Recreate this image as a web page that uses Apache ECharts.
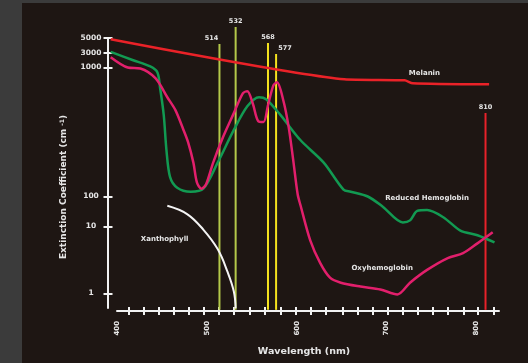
<!DOCTYPE html>
<html><head><meta charset="utf-8">
<script src="https://cdn.jsdelivr.net/npm/echarts@6/dist/echarts.min.js"></script>
<style>
html,body{margin:0;padding:0;background:#3b3b3b;width:528px;height:363px;overflow:hidden}
#panel{position:absolute;left:22px;top:3px;right:0;bottom:0;background:#1e1613}
#chart{position:absolute;left:0;top:0;width:528px;height:363px}
</style></head><body><div id="panel"></div><div id="chart"></div>
<script>
// ---- data (wavelength nm, extinction coefficient cm^-1) ----
const melanin = [[393,4800],[653,810],[720,795],[729,755],[814,740]];
const reducedHb = [[393,3110],[418,1730],[437,1080],[445,915],[448,690],[452,430],[455,230],[459,142],[467,117],[482,109],[496,115],[512,183],[530,328],[545,500],[558,588],[566,567],[582,427],[604,274],[630,183],[652,113],[660,109],[679,100],[696,45],[718,13.7],[726,16],[734,33],[745,35.6],[763,20.4],[782,8.7],[801,7.4],[820,5.8]];
const oxyHb = [[393,2190],[412,1000],[426,982],[443,823],[456,588],[465,467],[474,328],[479,265],[485,183],[489,128],[494,115],[499,124],[507,183],[518,289],[530,443],[540,631],[545,654],[551,528],[557,385],[563,378],[568,510],[574,727],[578,767],[585,557],[591,345],[596,193],[601,104],[604,53],[615,6.2],[626,2.86],[637,1.72],[649,1.45],[671,1.27],[693,1.15],[712,0.97],[726,1.45],[745,2.25],[768,3.38],[785,4.0],[801,5.6],[818,8.2]];
const xanthophyll = [[456,49],[478,26],[496,9.0],[512,4.6],[523,2.1],[530,1.07],[532,0.6]];
const laserLines = [514, 532, 568, 577, 810];
const laserTops = [4070, 7280, 4220, 2780, 444];
const laserBottom = 0.57;
const curveLabels = ['Melanin','Reduced Hemoglobin','Oxyhemoglobin','Xanthophyll'];
const curveLabelAt = [[742,906],[745,89],[695,2.4],[453,6.5]];
const yTickValues = [1, 10, 100, 1000, 3000, 5000];
const xLabelValues = [400, 500, 600, 700, 800];
const xTickValues = [412.7,429.4,446.1,462.7,479.4,496.1,512.8,529.5,547.3,564.0,581.8,598.4,615.1,631.8,650.7,667.4,684.1,700.8,717.5,734.1,750.8,767.5,785.3,800.9,818.7];

// ---- the chart's own (non-uniform) vertical scale ----
const yTickUnits = [14.5, 81.5, 111.5, 240.5, 255, 270];
const yLogs = yTickValues.map(v => Math.log10(v));
function toAxis(v){
  const L = Math.log10(v);
  let i = 0;
  if (L <= yLogs[0]) i = 0;
  else if (L >= yLogs[yLogs.length-1]) i = yLogs.length-2;
  else { while (!(L >= yLogs[i] && L <= yLogs[i+1])) i++; }
  const t = (L - yLogs[i]) / (yLogs[i+1] - yLogs[i]);
  return yTickUnits[i] + t * (yTickUnits[i+1] - yTickUnits[i]);
}
const conv = arr => arr.map(p => [p[0], toAxis(p[1])]);

// ---- styles ----
const FONT = 'DejaVu Sans';
const TXT = '#e6e6e6';
const AX = '#f2f2f2';
const laserColors = ['#b4c84a','#b4c84a','#f4e21e','#f4e21e','#e8222a'];
const laserLabelOffset = [-8, 0, 0, 9, 0];

const chart = echarts.init(document.getElementById('chart'), null, {renderer:'canvas'});

const labelMark = (idx) => ({
  symbol:'rect', symbolSize:1, silent:true, animation:false,
  itemStyle:{color:'rgba(0,0,0,0)'},
  label:{show:true, position:'inside', formatter:'{b}', color:TXT, fontSize:7, fontWeight:'bold', fontFamily:FONT},
  data:[{name:curveLabels[idx], coord:[curveLabelAt[idx][0], toAxis(curveLabelAt[idx][1])]}]
});

const series = [];
laserLines.forEach((nm, i) => {
  series.push({
    type:'line', xAxisIndex:0, yAxisIndex:0, clip:false, silent:true,
    symbol:'circle', symbolSize:1, showSymbol:true,
    itemStyle:{color:'rgba(0,0,0,0)'},
    lineStyle:{color:laserColors[i], width:2},
    z:2,
    data:[
      {value:[nm, toAxis(laserBottom)], label:{show:false}},
      {value:[nm, toAxis(laserTops[i])], label:{show:true, position:'top', distance:2, offset:[laserLabelOffset[i],0], formatter:String(nm), color:TXT, fontSize:6.5, fontWeight:'bold', fontFamily:FONT}}
    ]
  });
});
series.push({type:'line', name:'Melanin', data:conv(melanin), clip:false, showSymbol:false, smooth:0.2,
  lineStyle:{color:'#ea2228', width:2.5}, z:3, markPoint:labelMark(0)});
series.push({type:'line', name:'Reduced Hemoglobin', data:conv(reducedHb), clip:false, showSymbol:false, smooth:0.3,
  lineStyle:{color:'#129a52', width:2.5}, z:4, markPoint:labelMark(1)});
series.push({type:'line', name:'Oxyhemoglobin', data:conv(oxyHb), clip:false, showSymbol:false, smooth:0.3,
  lineStyle:{color:'#e21f6c', width:2.5}, z:4, markPoint:labelMark(2)});
series.push({type:'line', name:'Xanthophyll', data:conv(xanthophyll), clip:false, showSymbol:false, smooth:0.4,
  lineStyle:{color:'#f4f4f4', width:2}, z:4, markPoint:labelMark(3)});

const yTickUnitsList = yTickValues.map(toAxis);
const yLabelFmt = (val) => {
  let best = 0;
  yTickUnitsList.forEach((u, i) => { if (Math.abs(u - val) < Math.abs(yTickUnitsList[best] - val)) best = i; });
  return String(yTickValues[best]);
};

chart.setOption({
  animation:false,
  backgroundColor:'transparent',
  grid:[
    {left:108, right:29, top:38, bottom:55},
    {left:117, right:29, top:38, bottom:52}
  ],
  xAxis:[
    {gridIndex:0, type:'value', min:390, max:825, show:false, position:'bottom'},
    {gridIndex:1, type:'value', min:400, max:825, position:'bottom', offset:0,
      axisLine:{show:true, lineStyle:{color:AX, width:2}},
      axisTick:{show:true, inside:false, length:4, lineStyle:{color:AX, width:2}, customValues:xTickValues},
      axisLabel:{show:true, rotate:90, margin:10, color:TXT, fontSize:7, fontWeight:'bold', fontFamily:FONT, customValues:xLabelValues},
      splitLine:{show:false}},
    {gridIndex:1, type:'value', min:400, max:825, position:'bottom', offset:0,
      axisLine:{show:false},
      axisTick:{show:true, inside:true, length:4, lineStyle:{color:AX, width:2}, customValues:xTickValues},
      axisLabel:{show:false}, splitLine:{show:false}}
  ],
  yAxis:[
    {gridIndex:0, type:'value', min:0, max:270, position:'left', offset:0,
      axisLine:{show:true, lineStyle:{color:AX, width:2}},
      axisTick:{show:true, inside:false, length:4.5, lineStyle:{color:AX, width:2}, customValues:yTickUnitsList},
      axisLabel:{show:true, align:'center', margin:17, color:TXT, fontSize:7.5, fontWeight:'bold', fontFamily:FONT, customValues:yTickUnitsList, formatter:yLabelFmt},
      splitLine:{show:false}},
    {gridIndex:0, type:'value', min:0, max:270, position:'left', offset:0,
      axisLine:{show:false},
      axisTick:{show:true, inside:true, length:4.5, lineStyle:{color:AX, width:2}, customValues:yTickUnitsList},
      axisLabel:{show:false}, splitLine:{show:false}},
    {gridIndex:1, type:'value', show:false}
  ],
  graphic:[
    {type:'text', x:64, y:187, rotation:Math.PI/2, silent:true,
      style:{text:'Extinction Coefficient (cm {sup|-1})', fill:TXT, font:'bold 9px "DejaVu Sans"', align:'center', verticalAlign:'middle',
        rich:{sup:{fontSize:6, fontWeight:'bold', fontFamily:FONT, fill:TXT, verticalAlign:'top', padding:[0,0,3,0]}}}},
    {type:'text', x:304, y:352, silent:true,
      style:{text:'Wavelength (nm)', fill:TXT, font:'bold 9.5px "DejaVu Sans"', align:'center', verticalAlign:'middle'}}
  ],
  series:series
});
</script></body></html>
